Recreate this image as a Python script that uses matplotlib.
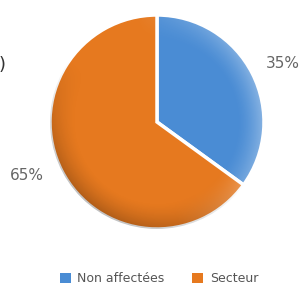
import matplotlib
matplotlib.use('Agg')
import numpy as np
import matplotlib.pyplot as plt
from matplotlib.patches import Patch, Circle

labels = ['Non affectées', 'Secteur']
values = [35, 65]
pct_labels = ['35%', '65%']
colors = ['#4a8cd4', '#e6791f']

cx, cy, rad = 157, 164, 107

fig = plt.figure(figsize=(3.03, 2.86), dpi=100)
ax = fig.add_axes([0, 0, 1, 1])

wedges, _ = ax.pie(values, colors=colors, startangle=90, counterclock=False,
                   center=(cx, cy), radius=rad, frame=True,
                   wedgeprops=dict(edgecolor='white', linewidth=2.5))

# soft rim shading to mimic the glossy look
n = 300
xs = np.linspace(cx - rad, cx + rad, n)
ys = np.linspace(cy - rad, cy + rad, n)
X, Y = np.meshgrid(xs, ys)
r = np.hypot(X - cx, Y - cy) / rad
ang = np.arctan2(Y - cy, X - cx)
rim = np.clip((r - 0.75) / 0.25, 0, 1) ** 1.5
light = rim * np.clip(np.cos(ang - 0.2), 0, 1) * 0.35
dark = rim * np.clip(np.cos(ang + 2.2), 0, 1) * 0.25
rgba = np.zeros((n, n, 4))
rgba[..., :3] = (light / np.maximum(light + dark, 1e-6))[..., None]
rgba[..., 3] = light + dark
im = ax.imshow(rgba, extent=(cx - rad, cx + rad, cy - rad, cy + rad), origin='lower',
               interpolation='bilinear', zorder=3)
im.set_clip_path(Circle((cx, cy), rad, transform=ax.transData))

ax.set_xlim(0, 303)
ax.set_ylim(0, 286)
ax.set_aspect('auto')
ax.axis('off')

# percentage labels
ax.text(283, 223, pct_labels[0], fontsize=11, color='#666666', ha='center', va='center')
ax.text(27, 111, pct_labels[1], fontsize=11, color='#666666', ha='center', va='center')
# fragment of a bracket on the left edge
ax.text(-1, 221, ')', fontsize=13, color='#333333', ha='left', va='center')

handles = [Patch(facecolor=c, edgecolor='none') for c in colors]
ax.legend(handles, labels, loc='center', bbox_to_anchor=(159, 7), bbox_transform=ax.transData,
          ncol=2, frameon=False, fontsize=9, handlelength=0.9, handleheight=0.9,
          handletextpad=0.5, columnspacing=2.2, labelcolor='#555555')

fig.savefig('out.png', dpi=100)
